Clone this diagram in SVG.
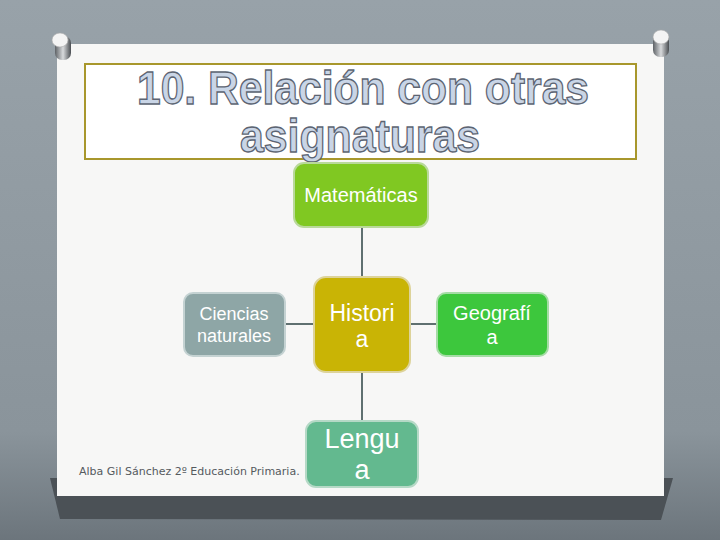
<svg xmlns="http://www.w3.org/2000/svg" width="720" height="540" viewBox="0 0 720 540">
<defs>
<linearGradient id="bg" x1="0" y1="0" x2="0" y2="1">
<stop offset="0" stop-color="#98a2a9"/>
<stop offset="0.8" stop-color="#8a949b"/>
<stop offset="1" stop-color="#6c757c"/>
</linearGradient>
<linearGradient id="pin" x1="0" y1="0" x2="1" y2="0">
<stop offset="0" stop-color="#5e6266"/>
<stop offset="0.5" stop-color="#d8dadc"/>
<stop offset="1" stop-color="#4a4e52"/>
</linearGradient>
<style>
.node rect{stroke-width:2}
.lbl{font-family:"Liberation Sans",Arial,sans-serif;fill:#ffffff;text-anchor:middle}
.conn line{stroke:#5f7070;stroke-width:2}
.title{font-family:"Liberation Sans",Arial,sans-serif;font-weight:bold;font-size:46px;fill:#c9d5e6;stroke:#5c6472;stroke-width:1.3;text-anchor:middle}
</style>
</defs>
<rect width="720" height="540" fill="url(#bg)"/>
<polygon points="50,478 673,478 661,520 60,519" fill="#4b5156"/>
<rect x="57" y="44" width="607" height="452" fill="#f7f7f6"/>
<g id="pin-left">
<rect x="55" y="36" width="16" height="24" rx="7" fill="url(#pin)"/>
<ellipse cx="60" cy="40" rx="8" ry="7" fill="#f4f4f4" stroke="#aaa" stroke-width="0.6"/>
</g>
<g id="pin-right">
<rect x="653" y="33" width="16" height="24" rx="7" fill="url(#pin)"/>
<ellipse cx="661" cy="37" rx="8" ry="7" fill="#f4f4f4" stroke="#aaa" stroke-width="0.6"/>
</g>
<g id="title">
<rect x="85" y="64" width="551" height="95" fill="#ffffff" stroke="#a8972c" stroke-width="2"/>
<text class="title" x="363" y="104" textLength="452" lengthAdjust="spacingAndGlyphs">10. Relación con otras</text>
<text class="title" x="360" y="152" textLength="240" lengthAdjust="spacingAndGlyphs">asignaturas</text>
</g>
<g class="conn" id="connectors">
<line x1="362" y1="227" x2="362" y2="276"/>
<line x1="285" y1="324" x2="313" y2="324"/>
<line x1="410" y1="324" x2="437" y2="324"/>
<line x1="362" y1="372" x2="362" y2="420"/>
</g>
<g class="node" id="matematicas">
<rect x="294" y="163" width="134" height="64" rx="10" fill="#80c822" stroke="#b9d99a"/>
<text class="lbl" x="361" y="202" font-size="20">Matemáticas</text>
</g>
<g class="node" id="historia">
<rect x="314" y="277" width="96" height="95" rx="12" fill="#c9b405" stroke="#ddd39a"/>
<text class="lbl" x="362" y="321" font-size="23">Histori</text>
<text class="lbl" x="362" y="347" font-size="23">a</text>
</g>
<g class="node" id="ciencias">
<rect x="184" y="293" width="101" height="63" rx="9" fill="#8ea6a6" stroke="#c4d2d2"/>
<text class="lbl" x="234" y="320" font-size="18">Ciencias</text>
<text class="lbl" x="234" y="342" font-size="18">naturales</text>
</g>
<g class="node" id="geografia">
<rect x="437" y="293" width="111" height="63" rx="9" fill="#3dc73d" stroke="#a5dca5"/>
<text class="lbl" x="492" y="320" font-size="20">Geografí</text>
<text class="lbl" x="492" y="344" font-size="20">a</text>
</g>
<g class="node" id="lengua">
<rect x="306" y="421" width="112" height="66" rx="10" fill="#63b98f" stroke="#b5d9c6"/>
<text class="lbl" x="362" y="448" font-size="27">Lengu</text>
<text class="lbl" x="362" y="479" font-size="27">a</text>
</g>
<text x="79" y="475" font-family="DejaVu Sans,sans-serif" font-size="11" fill="#555a5e">Alba Gil Sánchez 2º Educación Primaria.</text>
</svg>
